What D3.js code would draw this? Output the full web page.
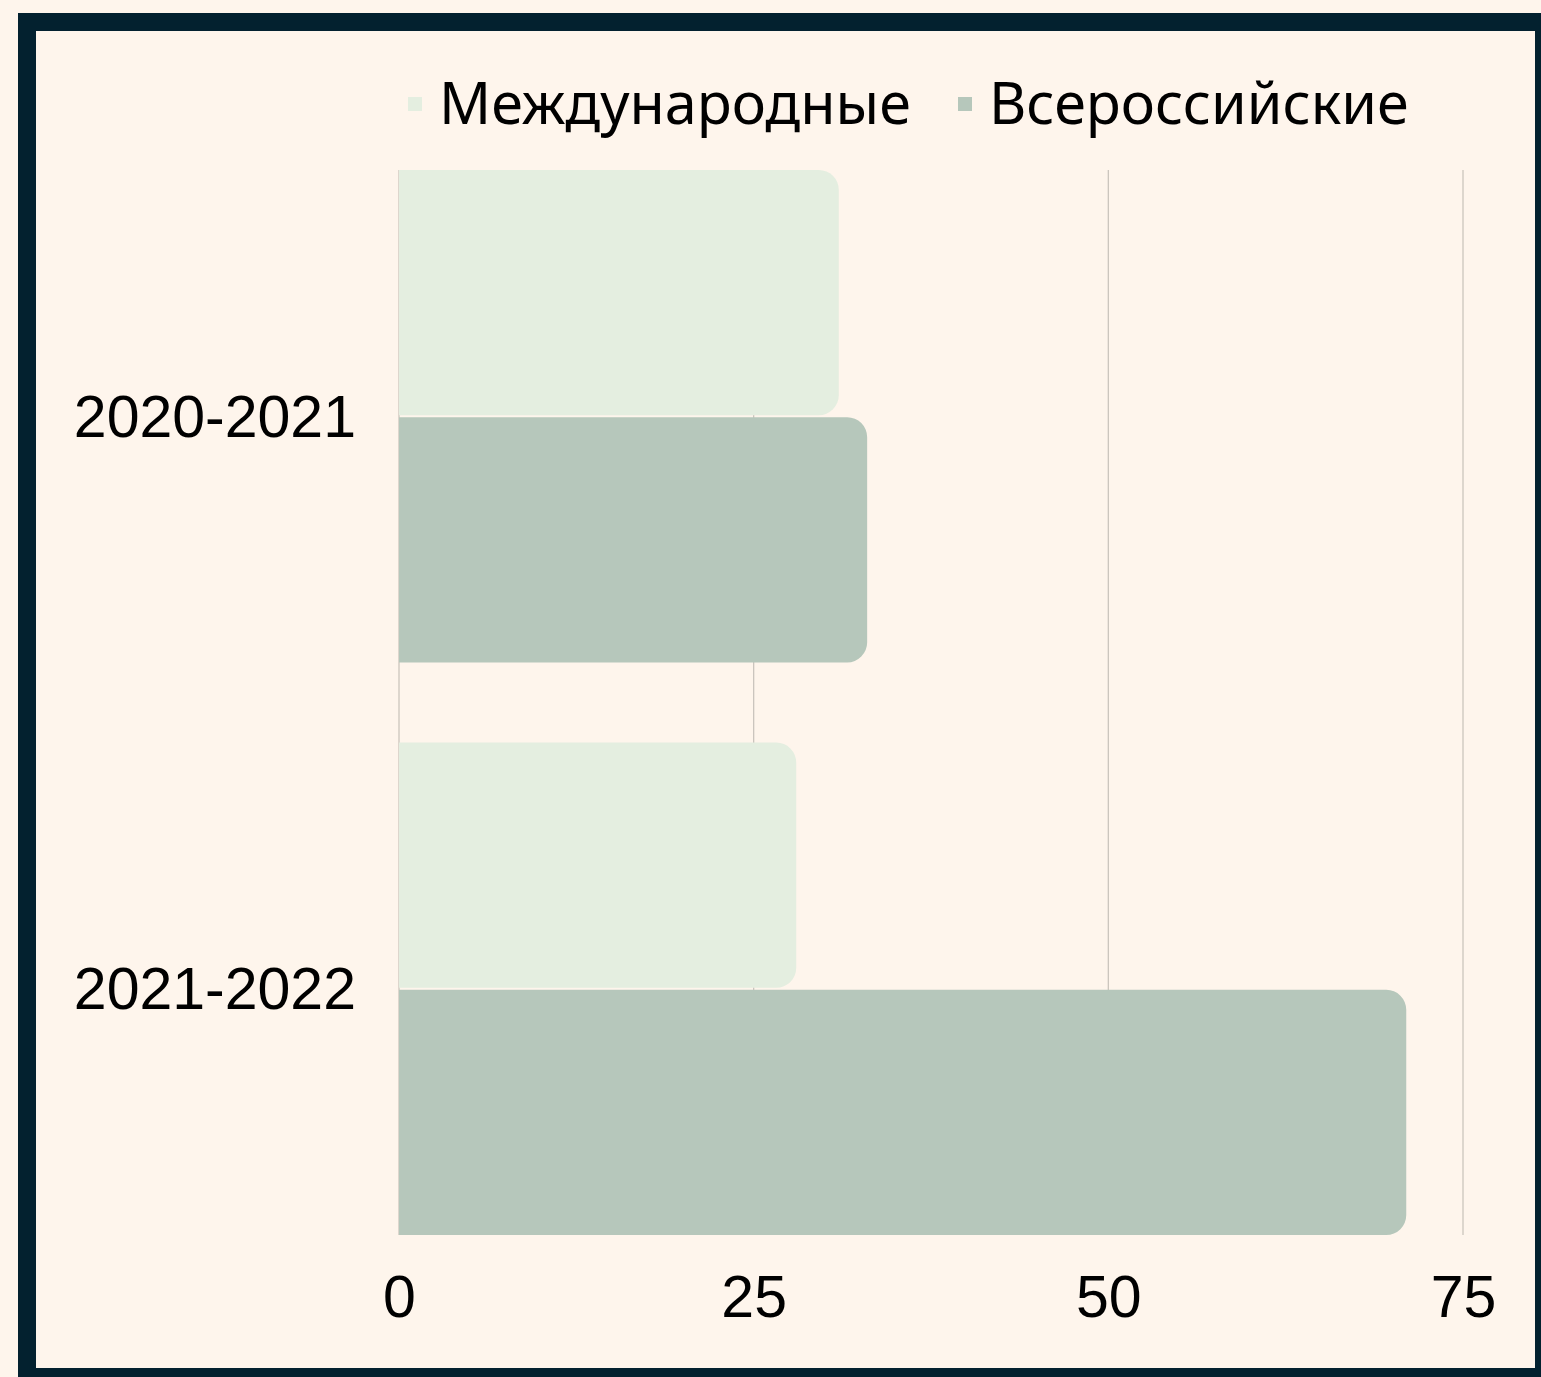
<!DOCTYPE html>
<html>
<head>
<meta charset="utf-8">
<script src="https://cdn.jsdelivr.net/npm/d3@7"></script>
<style>
  html, body { margin: 0; padding: 0; background: #fef5ec; overflow: hidden; }
  svg { display: block; }
</style>
</head>
<body>
<div id="chart"></div>
<script>
// Data
const categories = ["2020-2021", "2021-2022"];
const seriesNames = ["Международные", "Всероссийские"];
const international = [31, 28];
const allRussian = [33, 71];
const xTicks = [0, 25, 50, 75];
const colors = ["#e4eee0", "#b6c7bb"];

const width = 1541;
const height = 1377;
const plot = {left: 399, right: 1463, top: 170, bottom: 1235};

const svg = d3.select("#chart")
    .append("svg")
    .attr("width", width)
    .attr("height", height);

// Background and frame
svg.append("rect")
    .attr("width", width).attr("height", height)
    .attr("fill", "#fef5ec");

svg.append("rect")
    .attr("x", 27).attr("y", 22)
    .attr("width", 1517).attr("height", 1355)
    .attr("fill", "none")
    .attr("stroke", "#03212f")
    .attr("stroke-width", 18);

// Scales
const xScale = d3.scaleLinear()
    .domain([0, 75])
    .range([plot.left, plot.right]);

const yScale = d3.scaleBand()
    .domain(categories)
    .range([plot.top, plot.bottom])
    .paddingInner(0.14)
    .paddingOuter(0);

const ySub = d3.scaleBand()
    .domain(seriesNames)
    .range([0, yScale.bandwidth()])
    .paddingInner(0.008);

// Gridlines
svg.append("g")
    .selectAll("line")
    .data(xTicks)
    .join("line")
    .attr("x1", d => xScale(d)).attr("x2", d => xScale(d))
    .attr("y1", plot.top).attr("y2", plot.bottom)
    .attr("stroke", "#cbc5bd")
    .attr("stroke-width", 1.3);

// Bars
const rows = categories.map((c, i) => ({
    category: c,
    values: [
        {series: seriesNames[0], value: international[i], color: colors[0]},
        {series: seriesNames[1], value: allRussian[i], color: colors[1]}
    ]
}));

function barPath(x0, x1, y, h, r) {
    r = Math.min(r, (x1 - x0), h / 2);
    return `M${x0},${y}H${x1 - r}A${r},${r} 0 0 1 ${x1},${y + r}` +
        `V${y + h - r}A${r},${r} 0 0 1 ${x1 - r},${y + h}H${x0}Z`;
}

svg.append("g")
    .selectAll("g")
    .data(rows)
    .join("g")
    .attr("transform", d => `translate(0,${yScale(d.category)})`)
    .selectAll("path")
    .data(d => d.values)
    .join("path")
    .attr("fill", d => d.color)
    .attr("d", d => barPath(xScale(0), xScale(d.value), ySub(d.series), ySub.bandwidth(), 20));

// Axes (labels only)
const xAxis = d3.axisBottom(xScale).tickValues(xTicks).tickSize(0).tickPadding(0);
const gx = svg.append("g")
    .attr("transform", `translate(0,${plot.bottom})`)
    .call(xAxis);
gx.select(".domain").remove();
gx.selectAll("text")
    .attr("y", 82)
    .attr("dy", 0)
    .attr("fill", "#000")
    .style("font-family", "'Liberation Sans', Arial, sans-serif")
    .style("font-size", "59px");

const yAxis = d3.axisLeft(yScale).tickSize(0).tickPadding(0);
const gy = svg.append("g")
    .attr("transform", `translate(${plot.left - 43},0)`)
    .call(yAxis);
gy.select(".domain").remove();
gy.selectAll("text")
    .attr("x", 0)
    .attr("dy", "0.35em")
    .attr("fill", "#000")
    .style("font-family", "'Liberation Sans', Arial, sans-serif")
    .style("font-size", "59px");

// Legend
const legendX = [408, 958];
const legend = svg.append("g")
    .selectAll("g")
    .data(seriesNames)
    .join("g")
    .attr("transform", (d, i) => `translate(${legendX[i]},0)`);

legend.append("rect")
    .attr("x", 0).attr("y", 97)
    .attr("width", 14).attr("height", 14)
    .attr("fill", (d, i) => colors[i]);

legend.append("text")
    .attr("x", 31).attr("y", 124)
    .attr("fill", "#000")
    .style("font-family", "'Noto Sans', 'Open Sans', sans-serif")
    .style("font-size", "57.5px")
    .text(d => d);
</script>
</body>
</html>
